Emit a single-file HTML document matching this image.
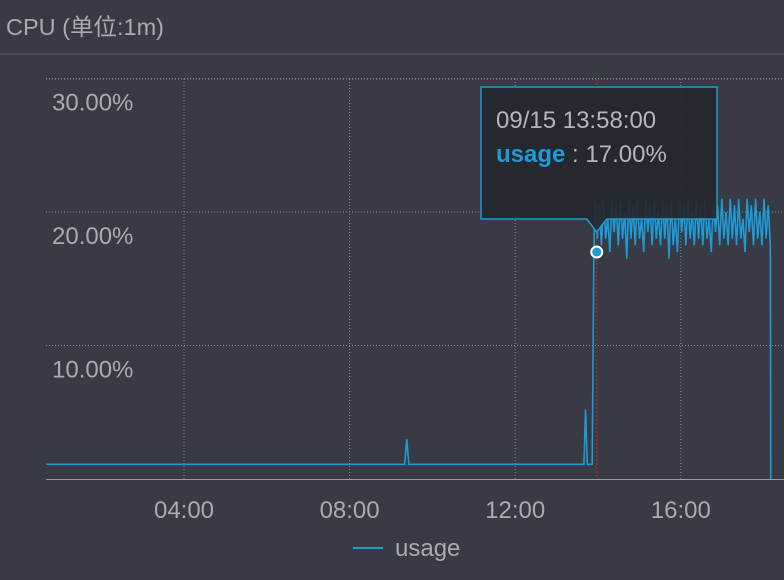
<!DOCTYPE html>
<html><head><meta charset="utf-8"><style>
html,body{margin:0;padding:0;background:#383a44;width:784px;height:580px;overflow:hidden;font-family:"Liberation Sans","Noto Sans CJK SC",sans-serif}
#title{position:absolute;left:6px;top:8px;font-size:23.5px;color:#a9abb2}
#sep{position:absolute;left:0;top:53px;width:784px;height:2px;background:#4b4d56}
svg{position:absolute;left:0;top:0}
</style></head><body>
<div id="title">CPU (单位:1m)</div>
<div id="sep"></div>
<svg id="chart" width="784" height="580"></svg>
<script>
const yTicks=[10,20,30];
const xTickHours=[4,8,12,16];
const xTickLabels=["04:00","08:00","12:00","16:00"];
const baseTimes=[0.67,9.33,9.38,9.43,13.66,13.7,13.74,13.8,13.86,13.9];
const baseValues=[1.1,1.1,3.0,1.1,1.1,5.2,1.1,1.1,1.1,17.0];
const highStart=13.93, highStep=0.051;
const highValues=[21,18,20.5,17.5,21,18,19.5,17,21,18.5,20.5,17.5,21,18,20,16.5,21,18,20.5,17.5,21,18,19.5,17,21,18.5,20.5,17.5,21,18,20,17.5,21,18,20.5,16.5,21,17.5,19.5,17,21,18.5,20.5,17.5,21,18,20,17.5,21,18,20.5,17.5,21,18,19.5,17,21,18.5,20.5,17.5,21,18,20,17.5,21,18,20.5,17.5,21,18,19.5,17,21,18.5,20.5,17.5,21,18,20,17.5,21,18,20.5,17.5];
const endValue=0;
const tipTime=13.97, tipValue=17.0;

const NS="http://www.w3.org/2000/svg";
const svgEl=document.getElementById('chart');
const X=h=>184+(h-4)*41.4;
const Y=v=>479-v*13.35;
function el(t,a){const e=document.createElementNS(NS,t);for(const k in a)e.setAttribute(k,a[k]);svgEl.appendChild(e);return e;}

yTicks.forEach(v=>{
  const l=el('line',{x1:46,x2:784,y1:Y(v),y2:Y(v),stroke:'#8a8c94','stroke-dasharray':'1,2','stroke-width':1});
  
  
  const t=el('text',{x:52,y:Y(v)+32,fill:'#a9abb2','font-size':24});
  t.textContent=v.toFixed(2)+'%';
  
  
});
xTickHours.forEach((h,i)=>{
  const l=el('line',{x1:X(h),x2:X(h),y1:79,y2:479,stroke:'#8a8c94','stroke-dasharray':'1,2','stroke-width':1});
  
  
  const t=el('text',{x:X(h),y:518,fill:'#a9abb2','font-size':24,'text-anchor':'middle'});
  t.textContent=xTickLabels[i];
  
  
});
const topGrid=el('line',{x1:46,x2:784,y1:79,y2:79,stroke:'#8a8c94','stroke-dasharray':'1,2'});


const ax=el('line',{x1:46,x2:784,y1:479.5,y2:479.5,stroke:'#9a9ca3','stroke-width':1});



let pts=baseTimes.map((t,i)=>[X(t),Y(baseValues[i])]);
highValues.forEach((v,i)=>pts.push([X(highStart+i*highStep),Y(v)]));
const lastT=highStart+(highValues.length-1)*highStep;
pts.push([X(lastT+0.01),Y(endValue)]);
const line=el('polyline',{points:pts.map(p=>p.join(',')).join(' '),fill:'none',stroke:'#1e9ad6','stroke-width':1.6});



const cx=X(tipTime);
const vl=el('line',{x1:cx,x2:cx,y1:79,y2:479,stroke:'#d0262b','stroke-dasharray':'2,2','stroke-width':1});



const tip=el('path',{d:`M481,87 H717 V219 H${cx+10} L${cx},232 L${cx-10},219 H481 Z`,fill:'#25272e','fill-opacity':0.92,stroke:'#1e9ad6','stroke-width':1.5});


const t1=el('text',{x:496,y:128,fill:'#b4b6bc','font-size':24});
t1.textContent='09/15 13:58:00';


const t2=el('text',{x:496,y:162,fill:'#b4b6bc','font-size':24});
t2.innerHTML='<tspan fill="#1e9ad6" font-weight="bold">usage</tspan> : 17.00%';



const dot=el('circle',{cx:cx,cy:Y(tipValue),r:5.5,fill:'#1e9ad6',stroke:'#fff','stroke-width':2});



const ll=el('line',{x1:353,x2:383,y1:548,y2:548,stroke:'#1e9ad6','stroke-width':2});


const lt=el('text',{x:395,y:556,fill:'#a9abb2','font-size':24});
lt.textContent='usage';


</script>
</body></html>
